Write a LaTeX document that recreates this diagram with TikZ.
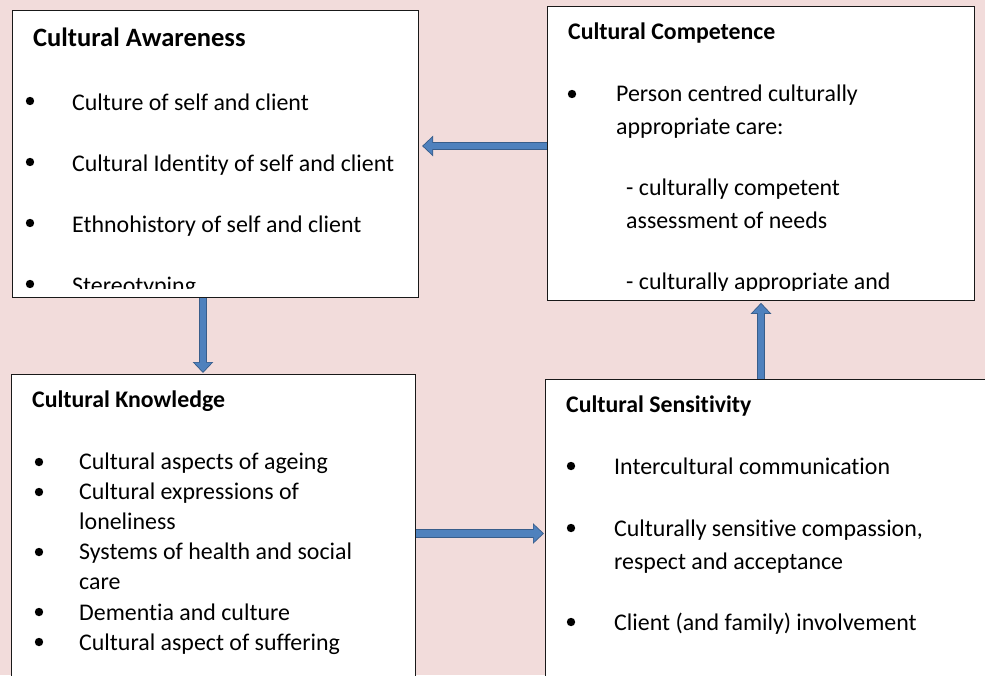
\documentclass[tikz,border=0pt]{standalone}
\usepackage{fontspec}
\setmainfont{Carlito}[Ligatures=NoCommon]
\usetikzlibrary{arrows.meta}
\definecolor{bgpink}{HTML}{F2DCDB}
\definecolor{arrowfill}{HTML}{4F81BD}
\definecolor{arrowline}{HTML}{385D8A}
\begin{document}
\begin{tikzpicture}[x=1pt,y=-1pt,
  box/.style={draw=black!90, line width=1.1pt, fill=white, inner sep=0, anchor=north west},
  ttl/.style={anchor=base west, inner sep=0, font=\fontsize{23.8}{28}\selectfont\bfseries},
  txt/.style={anchor=base west, inner sep=0, font=\fontsize{23.9}{28}\selectfont},
  bul/.style={fill=black},
  blkout/.style={line width=8.5pt, draw=arrowline, -{Triangle[width=20pt,length=11pt]}},
  blkin/.style={line width=6.3pt, draw=arrowfill, -{Triangle[width=16.5pt,length=9pt]}, shorten >=1.3pt}
]
\useasboundingbox (0,0) rectangle (985,675);
\fill[bgpink] (0,0) rectangle (985,675);
\begin{scope}
\clip (0,0) rectangle (985,675);
% boxes
\node[box, minimum width=406pt, minimum height=287pt] (A) at (12,10) {};
\node[box, minimum width=427pt, minimum height=294pt] (C) at (547,6) {};
\node[box, minimum width=404pt, minimum height=326pt] (K) at (11,374) {};
\node[box, minimum width=455pt, minimum height=321pt] (S) at (545,379) {};

% arrows
\coordinate (y1) at (0,146);
\coordinate (x2) at (203,0);
\coordinate (x3) at (761,0);
\coordinate (y4) at (0,533.5);
\draw[blkout, shorten >=3pt] (C.west |- y1) -- (A.east |- y1);
\draw[blkin, shorten >=4.3pt] (C.west |- y1) -- (A.east |- y1);
\draw[blkout, shorten >=1pt] (A.south -| x2) -- (K.north -| x2);
\draw[blkin, shorten >=2.3pt] (A.south -| x2) -- (K.north -| x2);
\draw[blkout, shorten >=1.7pt] (S.north -| x3) -- (C.south -| x3);
\draw[blkin, shorten >=3pt] (S.north -| x3) -- (C.south -| x3);
\draw[blkout, shorten >=1pt] (K.east |- y4) -- (S.west |- y4);
\draw[blkin, shorten >=2.3pt] (K.east |- y4) -- (S.west |- y4);

% Cultural Awareness
\node[ttl, font=\fontsize{26.5}{30}\selectfont\bfseries] (At) at (33,46) {Cultural Awareness};
\begin{scope}
\clip (12,10) rectangle (418,288);
\foreach \yy in {101,162,223,284} \fill[bul] (30,\yy) circle (4.2);
\node[txt] (A1) at (72,110) {Culture of self and client};
\node[txt] (A2) at (72,171) {Cultural Identity of self and client};
\node[txt] (A3) at (72,232) {Ethnohistory of self and client};
\node[txt] (A4) at (72,293) {Stereotyping};
\end{scope}

% Cultural Competence
\node[ttl] (Ct) at (568,39) {Cultural Competence};
\begin{scope}
\clip (547,6) rectangle (974,290);
\fill[bul] (572,94) circle (4.2);
\node[txt] (C1) at (616,101) {Person centred culturally};
\node[txt] (C2) at (616,134) {appropriate care:};
\node[txt] (C3) at (626,195) {- culturally competent};
\node[txt] (C4) at (626,228) {assessment of needs};
\node[txt] (C5) at (626,289) {- culturally appropriate and};
\end{scope}

% Cultural Knowledge
\node[ttl] (Kt) at (32,407) {Cultural Knowledge};
\foreach \yy in {462,492,552,612,642} \fill[bul] (39,\yy) circle (4.2);
\node[txt] (K1) at (79,469) {Cultural aspects of ageing};
\node[txt] (K2) at (79,499) {Cultural expressions of};
\node[txt] (K3) at (79,529) {loneliness};
\node[txt] (K4) at (79,559.5) {Systems of health and social};
\node[txt] (K5) at (79,589.5) {care};
\node[txt] (K6) at (79,620) {Dementia and culture};
\node[txt] (K7) at (79,650) {Cultural aspect of suffering};

% Cultural Sensitivity
\node[ttl] (St) at (566,412) {Cultural Sensitivity};
\foreach \yy in {466,528,622} \fill[bul] (571,\yy) circle (4.2);
\node[txt] (S1) at (614,474) {Intercultural communication};
\node[txt] (S2) at (614,536) {Culturally sensitive compassion,};
\node[txt] (S3) at (614,569) {respect and acceptance};
\node[txt] (S4) at (614,630) {Client (and family) involvement};
\end{scope}
\end{tikzpicture}
\end{document}
